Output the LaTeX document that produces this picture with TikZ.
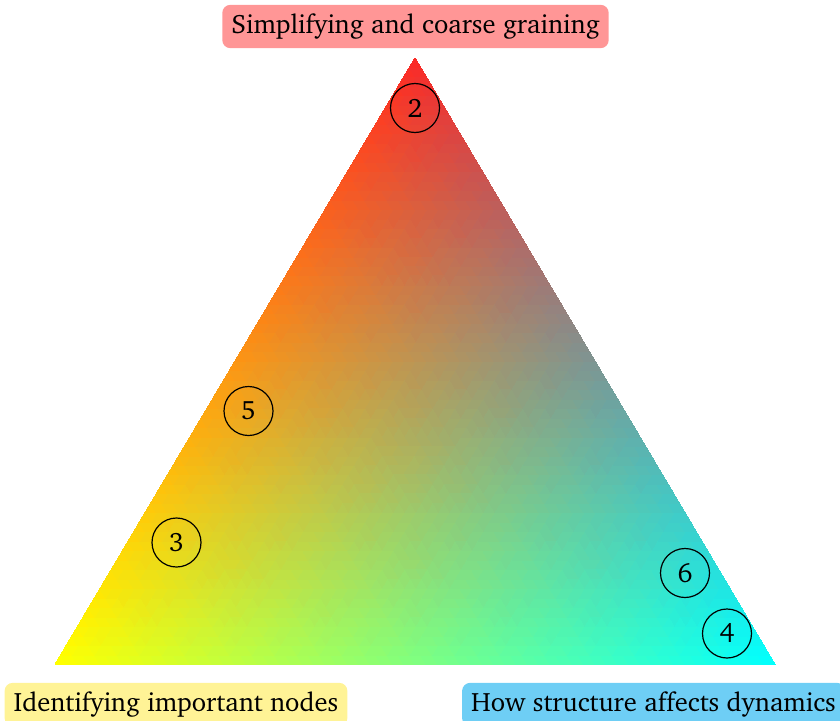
\documentclass[tikz,border=0pt]{standalone}
\usepackage[T1]{fontenc}
\usepackage{charter}
\usepackage{pgfplots}
\pgfplotsset{compat=1.18}

\definecolor{apexred}{RGB}{250,40,40}
\definecolor{leftyellow}{RGB}{255,255,0}
\definecolor{rightcyan}{RGB}{0,255,255}
\definecolor{pinkbox}{RGB}{255,150,150}
\definecolor{yellowbox}{RGB}{255,243,150}
\definecolor{bluebox}{RGB}{110,206,245}

\tikzset{
    aim/.style={rounded corners=4pt, inner sep=4.5pt, font=\fontsize{13.3}{15}\selectfont},
    tag/.style={circle, draw, line width=0.6pt, minimum size=24.5pt, inner sep=0pt, font=\fontsize{13.3}{15}\selectfont},
}

\begin{document}
\begin{tikzpicture}[x=0.5pt, y=0.5pt]
    \useasboundingbox (0,0) rectangle (840,720);
    % the triangle, one colour in each corner
    \begin{axis}[at={(0,0)}, anchor=origin, x=0.5pt, y=0.5pt, hide axis, clip=false,
        xmin=0, xmax=840, ymin=0, ymax=720]
        \addplot[patch, shader=interp, mesh/color input=explicit, point meta=explicit symbolic]
        coordinates {(55,55.5) [color=leftyellow] (775,55.5) [color=rightcyan] (415,662) [color=apexred]};
    \end{axis}
    % numbered papers
    \foreach \n/\x/\y in {2/415/612, 5/248.5/309, 3/176.5/177.5, 6/685/147, 4/727/86.5}{
        \node[tag] (c\n) at (\x,\y) {\n};
    }
    % the three goals
    \node[aim, fill=pinkbox] (coarse) at (415.5,693.5) {Simplifying and coarse graining};
    \node[aim, fill=yellowbox] (important) at (176,15.5) {Identifying important nodes};
    \node[aim, fill=bluebox] (dynamics) at (653.5,15.5) {How structure affects dynamics};
\end{tikzpicture}
\end{document}
